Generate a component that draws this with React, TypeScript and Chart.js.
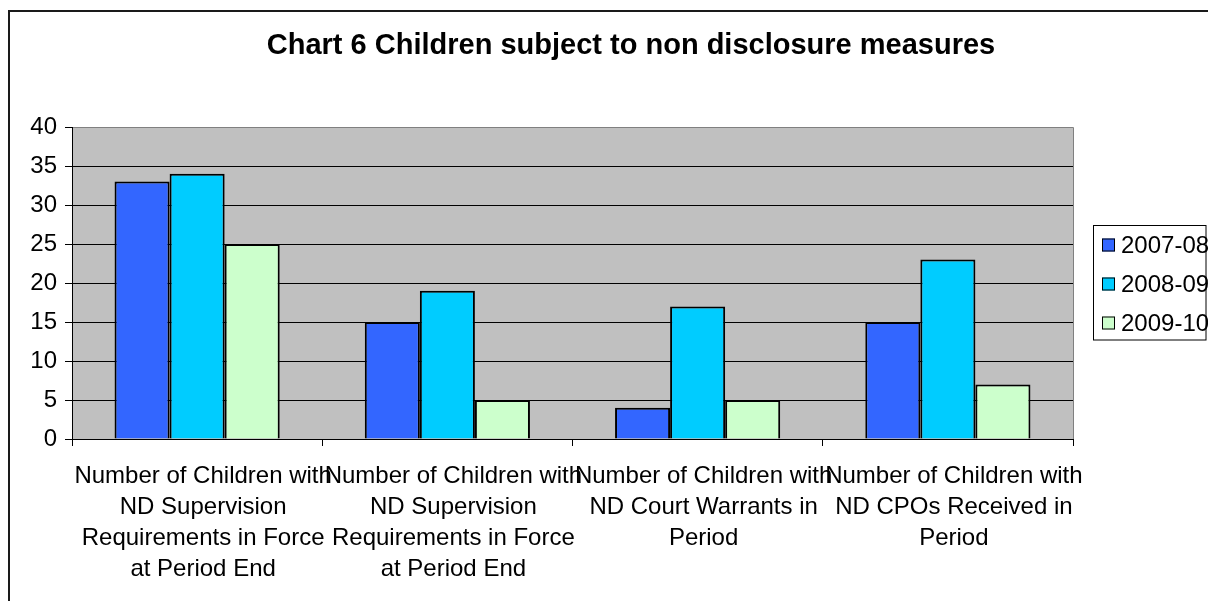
import React, { useEffect, useRef } from "react";
import { Chart, registerables } from "chart.js";

Chart.register(...registerables);

const TITLE = "Chart 6 Children subject to non disclosure measures";

const categories: string[][] = [
  ["Number of Children with", "ND Supervision", "Requirements in Force", "at Period End"],
  ["Number of Children with", "ND Supervision", "Requirements in Force", "at Period End"],
  ["Number of Children with", "ND Court Warrants in", "Period"],
  ["Number of Children with", "ND CPOs Received in", "Period"],
];

const seriesNames = ["2007-08", "2008-09", "2009-10"];
const values2007 = [33, 15, 4, 15];
const values2008 = [34, 19, 17, 23];
const values2009 = [25, 5, 5, 7];
const seriesColors = ["#3366FF", "#00CCFF", "#CCFFCC"];

const yTicks = [0, 5, 10, 15, 20, 25, 30, 35, 40];

const FONT = "'Liberation Sans', Arial, sans-serif";

const decorPlugin = {
  id: "decor",
  beforeDraw(chart: any) {
    const { ctx, chartArea } = chart;
    ctx.save();
    ctx.fillStyle = "#ffffff";
    ctx.fillRect(0, 0, chart.width, chart.height);
    // outer border
    ctx.strokeStyle = "#1a1a1a";
    ctx.lineWidth = 2;
    ctx.strokeRect(9, 11, 1400, 800);
    // plot area
    ctx.fillStyle = "#C0C0C0";
    ctx.fillRect(chartArea.left, chartArea.top, chartArea.right - chartArea.left, chartArea.bottom - chartArea.top);
    ctx.strokeStyle = "#808080";
    ctx.lineWidth = 1;
    ctx.beginPath();
    ctx.moveTo(chartArea.left, chartArea.top + 0.5);
    ctx.lineTo(chartArea.right + 0.5, chartArea.top + 0.5);
    ctx.lineTo(chartArea.right + 0.5, chartArea.bottom);
    ctx.stroke();
    // title
    ctx.fillStyle = "#000";
    ctx.font = `bold 29px ${FONT}`;
    ctx.textAlign = "center";
    ctx.textBaseline = "alphabetic";
    ctx.fillText(TITLE, 631, 54);
    ctx.restore();
  },
  afterDraw(chart: any) {
    const { ctx } = chart;
    ctx.save();
    // legend box
    ctx.fillStyle = "#fff";
    ctx.fillRect(1093.5, 225.5, 112.5, 114.5);
    ctx.strokeStyle = "#000";
    ctx.lineWidth = 1;
    ctx.strokeRect(1093.5, 225.5, 112.5, 114.5);
    const ds = chart.data.datasets;
    ds.forEach((d: any, i: number) => {
      const cy = 245 + i * 39;
      ctx.fillStyle = d.backgroundColor;
      ctx.fillRect(1102, cy - 6.5, 13, 13);
      ctx.strokeStyle = "#000";
      ctx.strokeRect(1102.5, cy - 6, 12, 12);
      ctx.fillStyle = "#000";
      ctx.font = `24px ${FONT}`;
      ctx.textAlign = "left";
      ctx.textBaseline = "middle";
      ctx.fillText(d.label, 1121, cy + 1);
    });
    ctx.restore();
  },
};

export default function App() {
  const ref = useRef<HTMLCanvasElement | null>(null);
  useEffect(() => {
    if (!ref.current) return;
    const chart = new Chart(ref.current, {
      type: "bar",
      data: {
        labels: categories as any,
        datasets: [values2007, values2008, values2009].map((vals, i) => ({
          label: seriesNames[i],
          data: vals,
          backgroundColor: seriesColors[i],
          borderColor: "#000",
          borderWidth: 2,
          categoryPercentage: 0.66,
          barPercentage: 1,
        })),
      },
      options: {
        animation: false,
        responsive: false,
        maintainAspectRatio: false,
        layout: { padding: { left: 0, top: 127, right: 135, bottom: 0 } },
        plugins: {
          legend: { display: false },
          title: { display: false },
          tooltip: { enabled: false },
        },
        scales: {
          x: {
            afterFit(scale: any) {
              scale.height = 162;
            },
            grid: {
              drawOnChartArea: false,
              drawTicks: true,
              tickLength: 7,
              offset: true,
              color: "#000",
            },
            border: { display: true, color: "#000", width: 1 },
            ticks: {
              autoSkip: false,
              maxRotation: 0,
              minRotation: 0,
              color: "#000",
              padding: 15,
              labelOffset: 6,
              font: { family: FONT, size: 24, lineHeight: 1.29 },
            },
          },
          y: {
            min: 0,
            max: 40,
            afterFit(scale: any) {
              scale.width = 72;
            },
            afterBuildTicks(scale: any) {
              scale.ticks = yTicks.map((v) => ({ value: v }));
            },
            grid: {
              color: (c: any) => (c.tick && c.tick.value === 40 ? "#808080" : "#000"),
              tickColor: "#000",
              tickLength: 7,
              lineWidth: 1,
            },
            border: { display: true, color: "#000", width: 1 },
            ticks: {
              color: "#000",
              padding: 8,
              font: { family: FONT, size: 24 },
            },
          },
        },
      },
      plugins: [decorPlugin],
    });
    return () => chart.destroy();
  }, []);
  return (
    <div style={{ position: "fixed", left: 0, top: 0, width: 1208, height: 601 }}>
      <canvas ref={ref} width={1208} height={601} style={{ width: 1208, height: 601 }} />
    </div>
  );
}
